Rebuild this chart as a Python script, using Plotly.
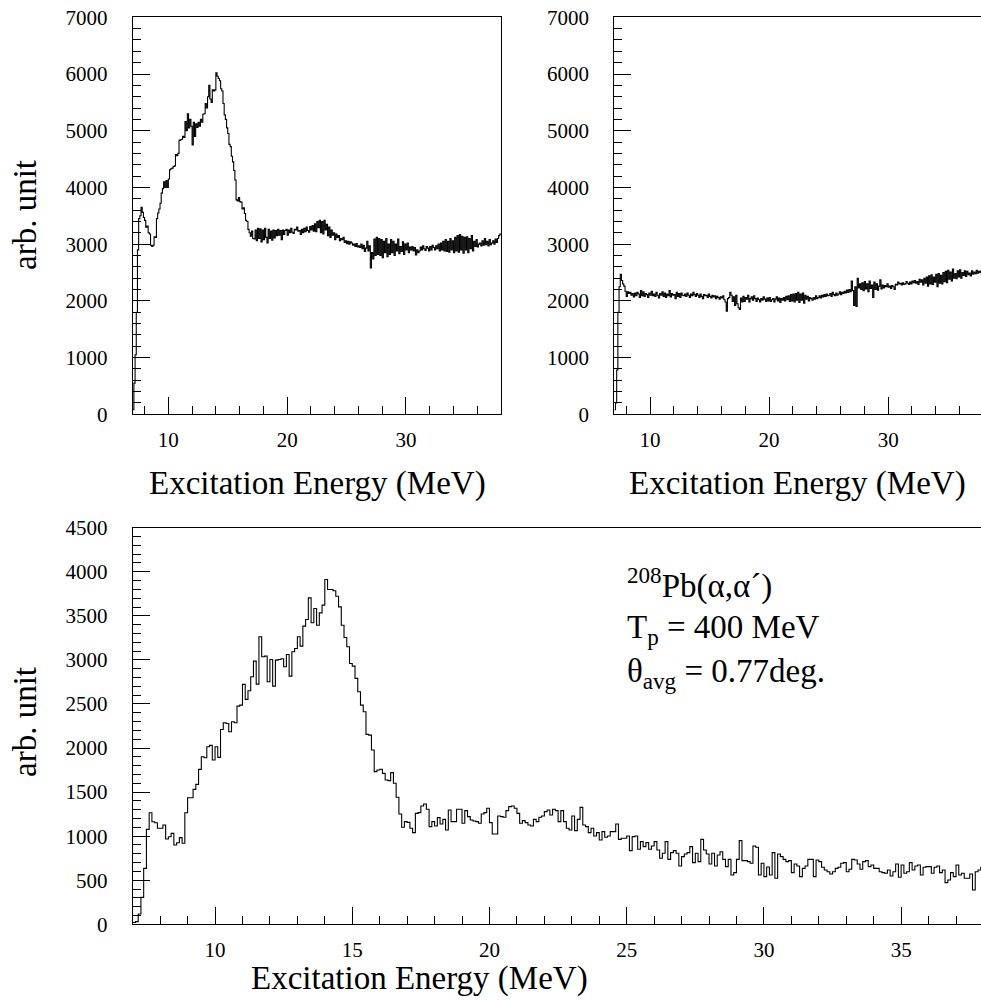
import numpy as np
import plotly.graph_objects as go

# ---------------- data ----------------
# histogram bins: 0.1 MeV wide, low edges 7.0 ... 37.9 MeV
bin_low_edges = [round(7.0 + 0.1 * i, 1) for i in range(310)]
bin_width = 0.1

# top-left spectrum (arb. unit)
counts_top_left = [
    80, 550, 1050, 1800, 2900, 3450, 3500, 3650, 3560, 3470,
    3420, 3300, 3320, 3200, 3180, 2980, 2960, 2980, 3130, 3120,
    3450, 3550, 3620, 3720, 3900, 3980, 4100, 4000, 4120, 4000,
    4150, 4310, 4330, 4340, 4370, 4380, 4580, 4560, 4600, 4830,
    4840, 4850, 4900, 4880, 5160, 5000, 5300, 5050, 5200, 5080,
    4750, 5150, 4900, 5120, 5060, 5150, 5080, 5200, 5150, 5290,
    5300, 5480, 5400, 5600, 5800, 5560, 5500, 5720, 5700, 5720,
    6020, 5960, 5920, 5880, 5740, 5700, 5480, 5280, 5200, 5050,
    4950, 4760, 4720, 4550, 4450, 4300, 4130, 3780, 3760, 3820,
    3750, 3740, 3620, 3640, 3540, 3420, 3400, 3260, 3200, 3140,
    3230, 3100, 3090, 3250, 3060, 3280, 3100, 3270, 3040, 3250,
    3080, 3280, 3120, 3020, 3260, 3100, 3230, 3070, 3250, 3110,
    3240, 3150, 3260, 3160, 3240, 3080, 3250, 3170, 3240, 3260,
    3160, 3250, 3200, 3280, 3210, 3190, 3260, 3250, 3300, 3230,
    3240, 3170, 3260, 3200, 3280, 3220, 3300, 3240, 3210, 3310,
    3250, 3330, 3230, 3360, 3220, 3400, 3290, 3420, 3200, 3400,
    3180, 3420, 3250, 3350, 3150, 3300, 3120, 3250, 3160, 3200,
    3080, 3180, 3120, 3150, 3060, 3100, 3080, 3120, 3030, 3060,
    3010, 3050, 3000, 3040, 3020, 2980, 3000, 2960, 3010, 2950,
    2970, 2940, 3000, 2920, 2980, 2870, 2930, 3050, 2880, 2970,
    2580, 2850, 2740, 3090, 2800, 3120, 2820, 3100, 2800, 3080,
    2760, 3050, 2850, 3100, 2780, 3000, 2820, 3080, 2850, 3050,
    2800, 3000, 2880, 3090, 2830, 2960, 2870, 3040, 2820, 3000,
    2900, 3020, 2850, 2950, 2900, 2960, 2880, 2940, 2810, 2900,
    2850, 2880, 2950, 2900, 2970, 2920, 2890, 2960, 2930, 2880,
    2960, 2900, 2980, 2940, 2900, 2970, 2920, 3000, 2880, 3020,
    2900, 3050, 2880, 3080, 2870, 3050, 2860, 3100, 2900, 3060,
    2850, 3120, 2880, 3150, 2860, 3170, 2900, 3140, 2840, 3120,
    2900, 3130, 2850, 3100, 2920, 3150, 2880, 3050, 2960, 3080,
    2950, 3000, 3020, 2970, 3060, 2980, 3100, 2990, 3050, 2970,
    3080, 2990, 3020, 3060, 3000, 3090, 3030, 3100, 3150, 3180,
]

# top-right spectrum (arb. unit)
counts_top_right = [
    80, 200, 780, 1800, 2250, 2470, 2360, 2300, 2260, 2170,
    2080, 2160, 2130, 2150, 2100, 2130, 2070, 2140, 2090, 2150,
    2120, 2060, 2180, 2090, 2160, 2080, 2130, 2110, 2060, 2140,
    2100, 2170, 2090, 2120, 2080, 2150, 2100, 2050, 2130, 2100,
    2160, 2080, 2140, 2060, 2120, 2090, 2180, 2070, 2130, 2100,
    2110, 2040, 2150, 2080, 2130, 2060, 2140, 2100, 2090, 2120,
    2080, 2140, 2100, 2060, 2120, 2090, 2150, 2110, 2080, 2130,
    2100, 2060, 2120, 2080, 2040, 2110, 2090, 2100, 2060, 2120,
    2080, 2050, 2100, 2070, 2090, 2040, 2080, 2060, 2030, 2070,
    2050, 2090, 2020, 1980, 1820, 2040, 2060, 2150, 2100, 1990,
    2070, 1920, 2100, 1950, 1880, 1850, 2050, 1980, 2080, 1990,
    2060, 2030, 2100, 1980, 2040, 2070, 2010, 2090, 2040, 1990,
    2050, 2020, 1980, 2040, 2010, 2070, 2030, 1990, 2050, 2000,
    2060, 1990, 2020, 2040, 1980, 2030, 2070, 2000, 2050, 1970,
    2040, 2010, 2060, 2000, 2080, 2020, 2090, 1990, 2110, 2000,
    2120, 1980, 2130, 2010, 2150, 1970, 2120, 2010, 2140, 1960,
    2100, 2030, 2080, 2000, 2060, 2040, 2010, 2060, 2030, 2090,
    2040, 2060, 2090, 2050, 2100, 2070, 2110, 2080, 2120, 2090,
    2100, 2130, 2080, 2150, 2110, 2090, 2140, 2100, 2120, 2160,
    2110, 2150, 2130, 2170, 2140, 2190, 2150, 2200, 2160, 2350,
    2180, 1920, 2250, 1900, 2400, 2230, 2300, 2200, 2320, 2180,
    2340, 2210, 2300, 2160, 2350, 2220, 2280, 2060, 2330, 2200,
    2300, 2190, 2260, 2370, 2210, 2280, 2230, 2270, 2250, 2300,
    2240, 2260, 2220, 2270, 2250, 2200, 2290, 2280, 2330, 2300,
    2310, 2280, 2320, 2290, 2300, 2340, 2310, 2290, 2330, 2300,
    2350, 2320, 2360, 2310, 2340, 2290, 2380, 2330, 2370, 2280,
    2400, 2310, 2420, 2260, 2440, 2300, 2460, 2290, 2420, 2330,
    2470, 2250, 2480, 2310, 2450, 2300, 2500, 2340, 2520, 2320,
    2540, 2380, 2510, 2350, 2560, 2400, 2480, 2390, 2530, 2420,
    2550, 2400, 2500, 2450, 2530, 2430, 2520, 2460, 2490, 2440,
    2530, 2470, 2510, 2480, 2540, 2490, 2520, 2500, 2530, 2510,
]

# bottom spectrum (arb. unit)
counts_bottom = [
    20, 30, 117, 306, 635, 1077, 1266, 1164, 1153, 1089,
    1089, 1126, 968, 994, 1032, 900, 926, 983, 919, 1266,
    1436, 1436, 1531, 1588, 1758, 1901, 1890, 2015, 2030, 1864,
    2015, 1894, 2211, 2287, 2279, 2185, 2298, 2287, 2476, 2487,
    2722, 2552, 2650, 2809, 2986, 2725, 3262, 3035, 3043, 2752,
    3005, 2703, 2998, 3005, 3013, 2922, 3062, 2816, 3092, 3130,
    3262, 3156, 3383, 3459, 3704, 3421, 3583, 3394, 3534, 3621,
    3912, 3799, 3799, 3784, 3723, 3602, 3394, 3255, 3149, 2960,
    2929, 2790, 2638, 2487, 2412, 2155, 2147, 1977,
    1732, 1751, 1759, 1713, 1638, 1630, 1721, 1600, 1441, 1252,
    1101, 1165, 1157, 1089, 1040, 1259, 1267, 1343, 1365, 1305,
    1108, 1165, 1116, 1210, 1138, 1191, 1070, 1297, 1165, 1165,
    1305, 1305, 1146, 1290, 1222, 1184, 1172, 1165, 1146, 1252,
    1267, 1316, 1154, 1025, 1025, 1229, 1222, 1214, 1290, 1335,
    1343, 1316, 1259, 1146, 1176, 1154, 1127, 1116, 1191, 1165,
    1214, 1229, 1278, 1297, 1241, 1305, 1290, 1165,
    1290, 1165, 1089, 1070, 1229, 1063, 1191, 1327, 1127, 1108,
    1040, 1089, 1002, 1040, 957, 1051, 987, 1002, 1051, 1051,
    1138, 964, 976, 976, 1002, 836, 995, 1002, 851, 938,
    881, 927, 851, 889, 938, 843, 749, 806, 938, 737,
    813, 836, 806, 662, 768, 798, 813, 881, 700, 806,
    711, 964, 843, 798, 685, 806, 662, 787, 824, 737,
    654, 737, 560, 586, 737, 949, 722, 722, 711, 692,
    889, 874, 560, 692, 541, 650,
    560, 813, 522, 798, 768, 737, 711, 722, 586, 685,
    662, 541, 635, 662, 737, 737, 541, 730, 711, 647,
    616, 597, 571, 597, 635, 647, 692, 700, 597, 624,
    737, 730, 685, 624, 711, 722, 654, 673, 635, 635,
    597, 586, 579, 616, 548, 597, 685, 533, 673, 579,
    597, 700, 616, 662, 673, 560, 647, 654, 654, 579,
    647, 662, 586, 616, 473, 503, 586, 541, 673, 560,
    579, 522, 522, 571, 390, 597, 616, 647,
]

x_title = "Excitation Energy (MeV)"
y_title = "arb. unit"
label_lines = [
    "<sup>208</sup>Pb(α,α´)",
    "T<sub>p</sub> = 400 MeV",
    "θ<sub>avg</sub> = 0.77deg.",
]

# ---------------- figure ----------------
W, H = 981, 1000
FONT = "Liberation Serif"


def px_x(p):
    return p / W


def px_y(p):
    return 1 - p / H


def step_xy(values):
    xs = list(bin_low_edges) + [round(bin_low_edges[-1] + bin_width, 1)]
    ys = list(values) + [values[-1]]
    return xs, ys


fig = go.Figure()
for vals, xa, ya in [(counts_top_left, "x", "y"),
                     (counts_top_right, "x2", "y2"),
                     (counts_bottom, "x3", "y3")]:
    xs, ys = step_xy(vals)
    fig.add_trace(go.Scatter(x=xs, y=ys, mode="lines", line_shape="hv",
                             line=dict(color="black", width=1.1),
                             xaxis=xa, yaxis=ya, showlegend=False,
                             hoverinfo="skip"))


def axis(domain, rng, dtick, minor_dtick, mirror, standoff, anchor):
    return dict(domain=domain, range=rng, anchor=anchor, automargin=False,
                showline=True, linecolor="black",
                linewidth=1, mirror=mirror, ticks="inside", ticklen=17,
                tickwidth=1, tickcolor="black", dtick=dtick, tick0=0,
                showgrid=False, zeroline=False,
                ticklabelstandoff=standoff,
                tickfont=dict(family=FONT, size=21, color="black"),
                minor=dict(ticks="inside", ticklen=8, tickwidth=1,
                           tickcolor="black", dtick=minor_dtick, tick0=0,
                           showgrid=False))


top_y = [px_y(414.3), px_y(17.3)]
bot_y = [px_y(924.3), px_y(527.7)]

fig.update_layout(
    template="none",
    width=W, height=H,
    margin=dict(l=0, r=0, t=0, b=0, pad=0, autoexpand=False),
    paper_bgcolor="white", plot_bgcolor="white",
    font=dict(family=FONT, color="black"),
    xaxis=axis([px_x(132.7), px_x(501)], [7, 38], 10, 2, True, 6, "y"),
    yaxis=axis(top_y, [0, 7000], 1000, 200, True, 20, "x"),
    xaxis2=axis([px_x(614.3), 1.0], [7, 37.8], 10, 2, True, 6, "y2"),
    yaxis2=axis(top_y, [0, 7000], 1000, 200, False, 20, "x2"),
    xaxis3=axis([px_x(132.7), 1.0], [7, 37.91], 5, 1, True, 6, "y3"),
    yaxis3=axis(bot_y, [0, 4500], 500, 100, False, 20, "x3"),
)

ann = []
title_font = dict(family=FONT, size=33, color="black")
for cx, cy in [(317, 483), (797, 483), (419, 978)]:
    ann.append(dict(text=x_title, x=px_x(cx), y=px_y(cy), xref="paper",
                    yref="paper", xanchor="center", yanchor="middle",
                    showarrow=False, font=title_font))
for cy in [215, 722]:
    ann.append(dict(text=y_title, x=px_x(25), y=px_y(cy), xref="paper",
                    yref="paper", xanchor="center", yanchor="middle",
                    textangle=-90, showarrow=False, font=title_font))
label_font = dict(family=FONT, size=33, color="black")
for line, cy in zip(label_lines, [583, 629, 673]):
    ann.append(dict(text=line, x=px_x(625), y=px_y(cy), xref="paper",
                    yref="paper", xanchor="left", yanchor="middle",
                    showarrow=False, font=label_font))
fig.update_layout(annotations=ann)

fig.write_html(
    "out.html",
    config={"displayModeBar": False},
    post_script="document.body.style.margin='0';"
                "document.body.style.overflow='hidden';",
)
